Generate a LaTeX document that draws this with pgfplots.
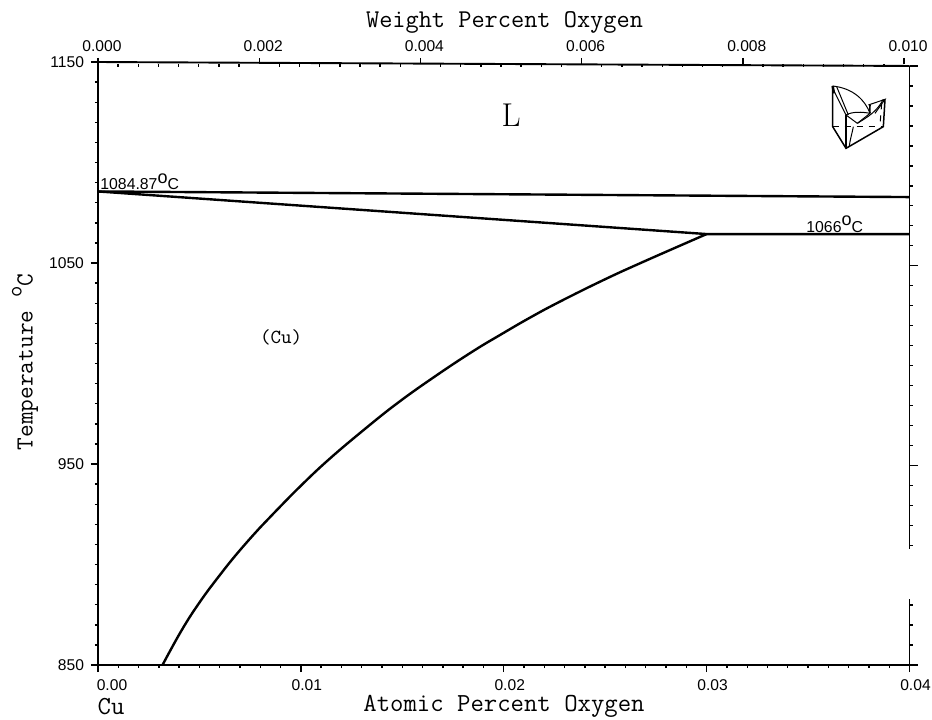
\documentclass[border=0pt]{standalone}
\usepackage{fontspec}
\usepackage{pgfplots}
\pgfplotsset{compat=1.18}
\newfontfamily\lsans{Liberation Sans}
\pgfplotsset{spine/.style={line width=0.95pt,black,line cap=butt},
  common/.style={scale only axis,width=405.75pt,anchor=south west,
    scaled x ticks=false,scaled y ticks=false,
    tick label style={font=\lsans\fontsize{7.8}{9}\selectfont},
    tick style={black,line width=0.7pt},
    major tick length=4pt,minor tick length=1.6pt,tick align=outside}}
\begin{document}
\begin{tikzpicture}
\path[use as bounding box] (0pt,0pt) rectangle (466pt,359.5pt);
% main axis: bottom and left
\begin{axis}[common,at={(49pt,27pt)},height=301.5pt,
  xmin=0,xmax=0.04,ymin=850,ymax=1150,
  axis x line*=bottom,axis y line*=left,axis line style={-,line width=0.95pt},
  xtick={0,0.01,0.02,0.03,0.04},
  xticklabels={\hspace*{8pt}0.00,0.01,0.02,0.03,0.04},
  minor x tick num=9,
  ytick={850,950,1050,1150},yticklabels={850,950,1050,1150},
  minor y tick num=9,
  xticklabel style={xshift=3pt,yshift=-0.5pt},
  major tick length=3.5pt,
  clip=false]
\addplot[black,line width=1.2pt,smooth,tension=0.7] coordinates {
(0.00318,850) (0.00413,867.4) (0.00503,881.5) (0.00601,894.8) (0.00692,906.2)
(0.00799,918.4) (0.00873,926.2) (0.00996,938.8) (0.01135,952.0) (0.01308,966.8)
(0.01480,980.6) (0.01670,994.2) (0.01850,1006.2) (0.01982,1014.2) (0.02129,1022.8)
(0.02277,1030.8) (0.02491,1041.5) (0.02688,1050.6) (0.03000,1064.4)};
\addplot[black,line width=1.2pt] coordinates {(0,1085.6) (0.03000,1064.4) (0.04,1064.4)};
\addplot[black,line width=1.2pt] coordinates {(0,1085.6) (0.04,1082.8)};
\end{axis}
% right side, with the gap in its line
\begin{axis}[common,at={(49pt,27pt)},height=299.5pt,
  xmin=0,xmax=0.04,ymin=850,ymax=1150,
  axis x line=none,axis y line*=right,y axis line style={draw=none},
  ytick={850,950,1050,1150},yticklabels={},
  minor ytick={860,870,880,910,920,930,940,960,970,980,990,1000,1010,1020,1030,1040,1060,1070,1080,1090,1100,1110,1120,1130,1140},
  clip=false]
\addplot[spine] coordinates {(0.04,1150) (0.04,908)};
\addplot[spine] coordinates {(0.04,883) (0.04,850)};
\end{axis}
% top axis
\begin{axis}[common,at={(49pt,27pt)},height=300.5pt,
  xmin=0,xmax=0.010068,ymin=0,ymax=1,
  axis y line=none,axis x line*=top,x axis line style={draw=none},
  xtick={0,0.002,0.004,0.006,0.008,0.010},
  xticklabels={0.000,0.002,0.004,0.006,0.008,0.010},
  minor xtick={0.00025,0.0005,0.00075,0.001,0.00125,0.0015,0.00175,0.00225,0.0025,0.00275,0.003,0.00325,0.0035,0.00375,0.00425,0.0045,0.00475,0.005,0.00525,0.0055,0.00575,0.00625,0.0065,0.00675,0.007,0.00725,0.0075,0.00775,0.00825,0.0085,0.00875,0.009,0.00925,0.0095,0.00975},
  every minor tick/.append style={yshift=-1.7pt},
  xticklabel style={xshift=2pt,yshift=-0.5pt},
  major tick length=3pt,
  clip=false]
\addplot[spine] coordinates {(0,1.0033) (0.010068,0.9967)};
\end{axis}
\begin{scope}[yshift=359.5pt,x=0.5pt,y=-0.5pt]
% text
\node[font=\ttfamily\fontsize{12.8}{14}\selectfont] at (504.5,22) {Weight Percent Oxygen};
\node[font=\ttfamily\fontsize{13}{14}\selectfont] at (504,706) {Atomic Percent Oxygen};
\node[font=\ttfamily\fontsize{13}{14}\selectfont,inner sep=0pt] at (111,707) {Cu};
\node[font=\ttfamily\fontsize{12.3}{14}\selectfont,rotate=90] at (25,362) {Temperature \raisebox{0.45em}{\fontsize{11}{11}\selectfont o}C};
\node[font=\ttfamily\fontsize{10}{12}\selectfont] at (281,337) {(Cu)};
\node[font=\rmfamily\fontsize{16.5}{18}\selectfont] at (511,115) {L};
\node[font=\lsans\fontsize{7.9}{9}\selectfont,anchor=base west,inner sep=0pt] at (100,190) {1084.87\raisebox{0.42em}{\fontsize{9}{9}\selectfont o}C};
\node[font=\lsans\fontsize{7.9}{9}\selectfont,anchor=base west,inner sep=0pt] at (806,232) {1066\raisebox{0.42em}{\fontsize{9}{9}\selectfont o}C};
% ternary-prism icon
\begin{scope}[shift={(820,70)},x=0.16667pt,y=-0.16667pt,line width=0.5pt,black]
\draw[line width=0.75pt] (38,48) -- (38,170) -- (78,235) -- (190,170) -- (195,88);
\draw[line width=0.9pt] (78,135) -- (78,235);
\draw[dashed,line width=0.7pt] (38,170) -- (190,170);
\draw (38,48) .. controls (100,55) and (135,90) .. (150,130);
\draw[line width=1.2pt] (38,48) -- (42,70);
\draw (38,55) -- (78,135);
\draw (50,50) -- (85,135);
\draw (78,135) .. controls (95,125) and (125,125) .. (150,130);
\draw (78,135) -- (112,160);
\draw (112,160) .. controls (145,140) and (170,125) .. (190,88);
\draw (145,105) -- (195,88) -- (165,130);
\draw[line width=0.8pt] (150,105) .. controls (148,115) and (150,125) .. (150,130);
\draw (150,130) -- (112,160);
\draw[dashed] (185,100) -- (180,165);
\draw (100,170) .. controls (95,195) and (90,210) .. (88,228);
\end{scope}
\end{scope}
\end{tikzpicture}
\end{document}
